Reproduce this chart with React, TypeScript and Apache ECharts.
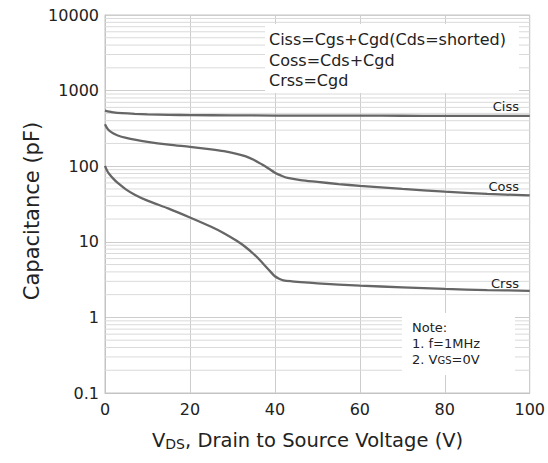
import React, { useEffect, useRef } from "react";
import * as echarts from "echarts";

// ---- data (V_DS in V, capacitance in pF) ----
const cissV = [0, 1, 2, 4, 7, 10, 15, 20, 30, 40, 50, 60, 70, 80, 90, 100];
const cissC = [545, 528, 515, 503, 492, 485, 478, 474, 470, 468, 467, 466, 465, 464, 463, 462];

const cossV = [0, 0.5, 1, 2, 3, 5, 7, 10, 15, 20, 25, 28, 31, 33, 35, 37, 38.5, 40, 41.5, 43, 46, 50, 55, 60, 70, 80, 90, 100];
const cossC = [360, 318, 295, 270, 255, 237, 224, 210, 193, 180, 167, 158, 146, 136, 122, 105, 93, 82, 75, 70, 65.5, 62, 58, 55, 50, 46, 43, 41];

const crssV = [0, 0.5, 1, 2, 3, 5, 7, 10, 15, 20, 25, 28, 31, 33, 35, 36.5, 38, 39, 40, 41, 42, 44, 47, 50, 60, 70, 80, 90, 100];
const crssC = [101, 87, 79, 68, 60, 49, 42, 35, 27.5, 21, 15.8, 13, 10.3, 8.6, 6.9, 5.7, 4.6, 4.0, 3.5, 3.25, 3.1, 3.0, 2.9, 2.82, 2.63, 2.5, 2.38, 2.3, 2.25];

const xTicks = [0, 20, 40, 60, 80, 100];
const yDecades = [0.1, 1, 10, 100, 1000, 10000];
const minorMultipliers = [2, 3, 4, 5, 6, 7, 8, 9];

const legendLines = ["Ciss=Cgs+Cgd(Cds=shorted)", "Coss=Cds+Cgd", "Crss=Cgd"];
const seriesNames = ["Ciss", "Coss", "Crss"];

const FONT = "DejaVu Sans";
const LINE = "#666666";
const GRID = "#cdcdcd";
const TXT = "#222222";

function pairs(xs: number[], ys: number[]) {
  return xs.map((x, i) => [x, ys[i]]);
}

export default function App() {
  const ref = useRef<HTMLDivElement>(null);
  useEffect(() => {
    if (!ref.current) return;
    const chart = echarts.init(ref.current, undefined, { renderer: "svg" });

    const minorData: number[][] = [];
    for (let d = 0; d < yDecades.length - 1; d++) {
      for (const m of minorMultipliers) {
        minorData.push([xTicks[0], +(yDecades[d] * m).toPrecision(3), xTicks[xTicks.length - 1]]);
      }
    }

    const lineSeries = (name: string, data: number[][]) => ({
      type: "line",
      name,
      data,
      showSymbol: false,
      symbol: "none",
      smooth: 0.3,
      lineStyle: { color: LINE, width: 2.3 },
      z: 5,
    });

    chart.setOption({
      animation: false,
      backgroundColor: "#ffffff",
      grid: {
        left: 105,
        right: 18,
        top: 15,
        bottom: 70,
        show: true,
        borderColor: "#c4c4c4",
        borderWidth: 1,
        backgroundColor: "transparent",
      },
      xAxis: {
        type: "value",
        min: xTicks[0],
        max: xTicks[xTicks.length - 1],
        interval: 20,
        axisLine: { show: true, lineStyle: { color: "#c4c4c4" } },
        axisTick: { show: false },
        axisLabel: {
          fontFamily: FONT,
          fontSize: 16,
          color: TXT,
          margin: 8,
        },
        splitLine: { show: true, lineStyle: { color: GRID, width: 1 } },
      },
      yAxis: {
        type: "log",
        logBase: 10,
        min: yDecades[0],
        max: yDecades[yDecades.length - 1],
        axisLine: { show: true, lineStyle: { color: "#c4c4c4" } },
        axisTick: { show: false },
        axisLabel: {
          fontFamily: FONT,
          fontSize: 16,
          color: TXT,
          margin: 6,
          formatter: (v: number) => (v >= 1 ? String(Math.round(v)) : String(+v.toPrecision(2))),
        },
        splitLine: { show: true, lineStyle: { color: GRID, width: 1 } },
      },
      series: [
        {
          type: "custom",
          name: "minorGrid",
          silent: true,
          z: 1,
          encode: { x: [0, 2], y: 1 },
          data: minorData,
          renderItem: (_params: any, api: any) => {
            const p1 = api.coord([api.value(0), api.value(1)]);
            const p2 = api.coord([api.value(2), api.value(1)]);
            return {
              type: "line",
              shape: { x1: p1[0], y1: p1[1], x2: p2[0], y2: p2[1] },
              style: { stroke: "#dadada", lineWidth: 1 },
            };
          },
        },
        lineSeries(seriesNames[0], pairs(cissV, cissC)),
        lineSeries(seriesNames[1], pairs(cossV, cossC)),
        lineSeries(seriesNames[2], pairs(crssV, crssC)),
      ],
      graphic: [
        {
          type: "rect",
          z: 100,
          shape: { x: 265, y: 24, width: 254, height: 69 },
          style: { fill: "#ffffff" },
          silent: true,
        },
        ...legendLines.map((t, i) => ({
          type: "text",
          z: 101,
          x: 269,
          y: [39, 60, 80][i],
          style: {
            text: t,
            font: `16px '${FONT}'`,
            fill: TXT,
            verticalAlign: "middle",
          },
        })),
        {
          type: "rect",
          z: 100,
          shape: { x: 402, y: 313, width: 113, height: 62 },
          style: { fill: "#ffffff" },
          silent: true,
        },
        {
          type: "text",
          z: 101,
          x: 412,
          y: 327,
          style: { text: "Note:", font: `13px '${FONT}'`, fill: TXT, verticalAlign: "middle" },
        },
        {
          type: "text",
          z: 101,
          x: 412,
          y: 343,
          style: { text: "1. f=1MHz", font: `13px '${FONT}'`, fill: TXT, verticalAlign: "middle" },
        },
        {
          type: "text",
          z: 101,
          x: 412,
          y: 359,
          style: {
            text: "{a|2. V}{s|GS}{a|=0V}",
            fill: TXT,
            verticalAlign: "middle",
            rich: {
              a: { fontFamily: FONT, fontSize: 13, fill: TXT, color: TXT },
              s: { fontFamily: FONT, fontSize: 10, fill: TXT, color: TXT, padding: [2, 0, 0, 0] },
            },
          },
        },
        ...seriesNames.map((n, i) => ({
          type: "text",
          z: 101,
          x: 519,
          y: [106, 186, 283][i],
          style: {
            text: n,
            font: `13px '${FONT}'`,
            fill: TXT,
            align: "right",
            verticalAlign: "middle",
          },
        })),
        {
          type: "text",
          z: 101,
          x: 152,
          y: 440,
          style: {
            text: "{a|V}{s|DS}{a|, Drain to Source Voltage (V)}",
            verticalAlign: "middle",
            rich: {
              a: { fontFamily: FONT, fontSize: 19.5, color: TXT, fill: TXT },
              s: { fontFamily: FONT, fontSize: 14, color: TXT, fill: TXT, padding: [7, 0, 0, 0] },
            },
          },
        },
        {
          type: "text",
          z: 101,
          x: 32,
          y: 211,
          rotation: Math.PI / 2,
          style: {
            text: "Capacitance (pF)",
            font: `21px '${FONT}'`,
            fill: TXT,
            align: "center",
            verticalAlign: "middle",
          },
        },
      ],
    });
    return () => chart.dispose();
  }, []);
  return (
    <div
      ref={ref}
      style={{ position: "fixed", left: 0, top: 0, width: 548, height: 463, background: "#fff" }}
    />
  );
}
